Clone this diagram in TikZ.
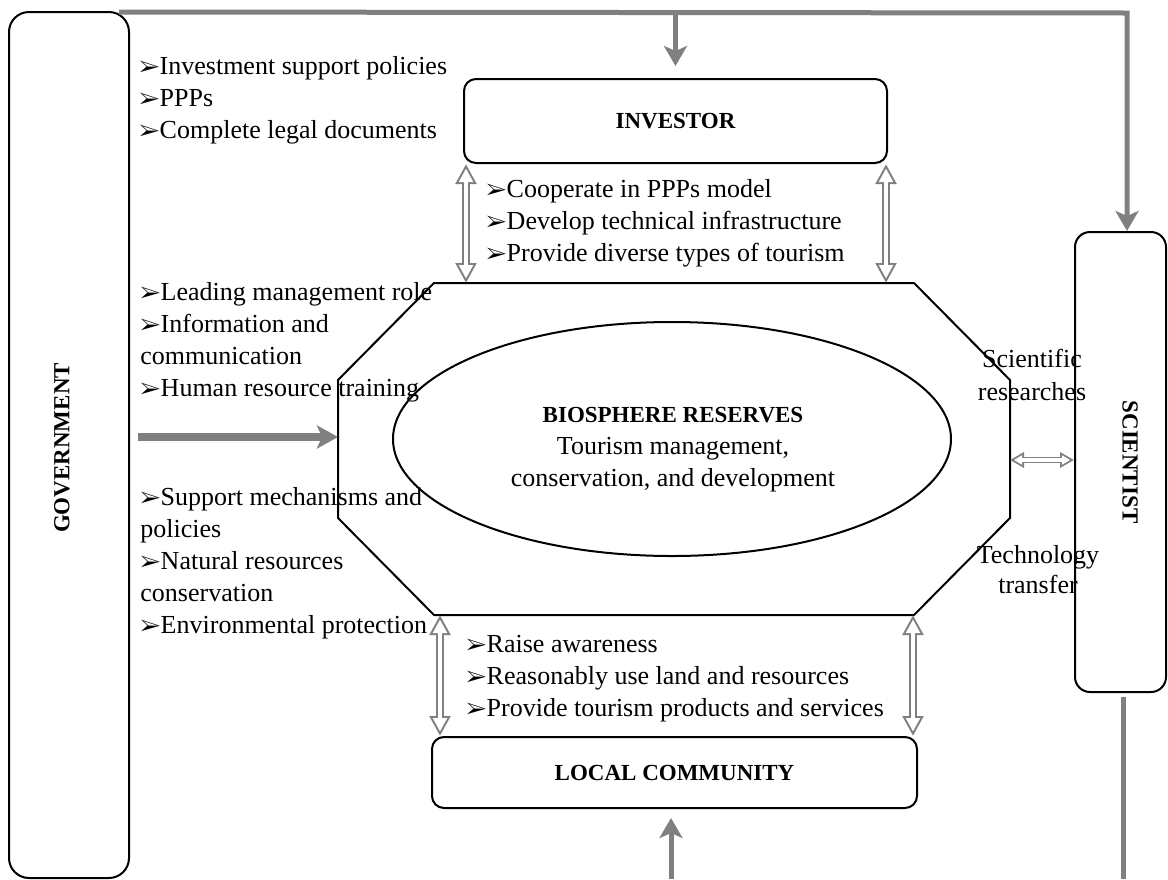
\documentclass[tikz,border=0pt]{standalone}
\usepackage{fontspec}
\setmainfont{Liberation Serif}
\usepackage{pifont}
\usetikzlibrary{arrows.meta, shapes.geometric, positioning}

\definecolor{flowgray}{RGB}{128,128,128}
\newcommand{\bul}{{\fontsize{11}{11}\selectfont\ding{226}}}
\newcommand{\lbl}{\bfseries\fontsize{11.5}{13}\selectfont}

\tikzset{
    actor/.style={draw, line width=1pt, rounded corners=6pt, inner sep=0pt},
    item/.style={anchor=base west, inner sep=0pt},
    note/.style={anchor=base, inner sep=0pt},
    flow/.style={color=flowgray, line width=2.5pt, -{Stealth[length=10pt, width=11.5pt, inset=2.5pt]}},
    % mũi tên rỗng hai đầu: vẽ nét xám dày rồi đè nét trắng mảnh lên
    link/.style={color=flowgray, line width=4.4pt, {Triangle[length=10pt, width=10pt]}-{Triangle[length=10pt, width=10pt]},
        postaction={draw, color=white, line width=2.4pt, shorten <=2.24pt, shorten >=2.24pt,
            {Triangle[length=6.76pt, width=6.76pt]}-{Triangle[length=6.76pt, width=6.76pt]}}},
    slink/.style={color=flowgray, line width=3.4pt, {Triangle[length=7pt, width=7.5pt]}-{Triangle[length=7pt, width=7.5pt]},
        postaction={draw, color=white, line width=1.6pt, shorten <=1.9pt, shorten >=1.9pt,
            {Triangle[length=4.2pt, width=4.5pt]}-{Triangle[length=4.2pt, width=4.5pt]}}},
}

\begin{document}
\begin{tikzpicture}[x=0.5pt, y=0.5pt, font=\fontsize{13}{16}\selectfont]
    \useasboundingbox (0,0) rectangle (1168,-879);

    % 1. Các khối chính
    \node[actor, rounded corners=10pt, minimum width=60pt, minimum height=433pt] (gov) at (69,-445) {};
    \node[rotate=90, font=\lbl] (govname) at (62,-448) {GOVERNMENT};
    \node[actor, minimum width=211.5pt, minimum height=42pt, font=\lbl] (inv) at (675.5,-121) {INVESTOR};
    \node[actor, minimum width=242.5pt, minimum height=35.5pt, font=\lbl] (comm) at (674.5,-772.5) {LOCAL COMMUNITY};
    \node[actor, rounded corners=7.5pt, minimum width=45.5pt, minimum height=230pt] (sci) at (1120.5,-462) {};
    \node[rotate=-90, font=\lbl] (sciname) at (1130,-462) {SCIENTIST};

    % 2. Hình bát giác và elip ở giữa
    \draw[line width=1pt] (434,-283) -- (914,-283) -- (1010,-380) -- (1010,-518)
        -- (914,-615) -- (434,-615) -- (338,-518) -- (338,-380) -- cycle;
    \coordinate (octN) at (674,-283);
    \coordinate (octS) at (674,-615);
    \coordinate (octW) at (338,-437);
    \coordinate (octE) at (1010,-460);
    \node[ellipse, draw, line width=1pt, minimum width=279pt, minimum height=117pt, inner sep=0pt] (bio) at (672,-439) {};
    \node[note] (bio-0) at (673,-422) {\lbl BIOSPHERE RESERVES};
    \node[note] (bio-1) at (673,-454) {Tourism management,};
    \node[note] (bio-2) at (673,-486) {conservation, and development};

    % 3. Các dòng chữ
    \foreach \t [count=\i from 0] in {\bul Investment support policies, \bul PPPs, \bul Complete legal documents}
        \node[item] (gov-a\i) at (139,{-74-32*\i}) {\t};
    \foreach \t [count=\i from 0] in {\bul Leading management role, \bul Information and, communication, \bul Human resource training}
        \node[item] (gov-b\i) at (140,{-300-32*\i}) {\t};
    \foreach \t [count=\i from 0] in {\bul Support mechanisms and, policies, \bul Natural resources, conservation, \bul Environmental protection}
        \node[item] (gov-c\i) at (140,{-505-32.2*\i}) {\t};
    \foreach \t [count=\i from 0] in {\bul Cooperate in PPPs model, \bul Develop technical infrastructure, \bul Provide diverse types of tourism}
        \node[item] (inv-\i) at (486,{-197-32*\i}) {\t};
    \foreach \t [count=\i from 0] in {\bul Raise awareness, \bul Reasonably use land and resources, \bul Provide tourism products and services}
        \node[item] (comm-\i) at (466,{-652-32*\i}) {\t};
    \foreach \t [count=\i from 0] in {Scientific, researches}
        \node[note] (sci-a\i) at (1032,{-367-33*\i}) {\t};
    \foreach \t [count=\i from 0] in {Technology, transfer}
        \node[note] (sci-b\i) at (1038,{-563-30*\i}) {\t};

    % 4. Mũi tên
    \coordinate (topR) at (1127,-13);
    \draw[flow] ([xshift=-5.5pt, yshift=-0.5pt]gov.north east) -- (topR) -- (topR |- sci.north);
    \draw[flow, shorten >=6pt] (inv.north |- topR) -- (inv.north);
    \draw[flow, line width=4pt, -{Stealth[length=10.5pt, width=11.5pt, inset=2.5pt]}] ([xshift=4pt]gov.east |- octW) -- (octW);
    \coordinate (botR) at (1123,-879);
    \draw[color=flowgray, line width=2.5pt] (botR |- sci.south) ++(0,-4) -- (botR);
    \coordinate (botC) at (671,-879);
    \draw[flow, shorten >=4.5pt] (botC) -- (botC |- comm.south);

    \coordinate (invL) at ([xshift=1.5pt]inv.south west);
    \coordinate (invR) at ([xshift=-1pt]inv.south east);
    \coordinate (commL) at ([xshift=4.5pt]comm.north west);
    \coordinate (commR) at ([xshift=-2.5pt]comm.north east);
    \draw[link] (invL) -- (invL |- octN);
    \draw[link] (invR) -- (invR |- octN);
    \draw[link] (commL) -- (commL |- octS);
    \draw[link] (commR) -- (commR |- octS);
    \draw[slink] (octE) -- (octE -| sci.west);
\end{tikzpicture}
\end{document}
